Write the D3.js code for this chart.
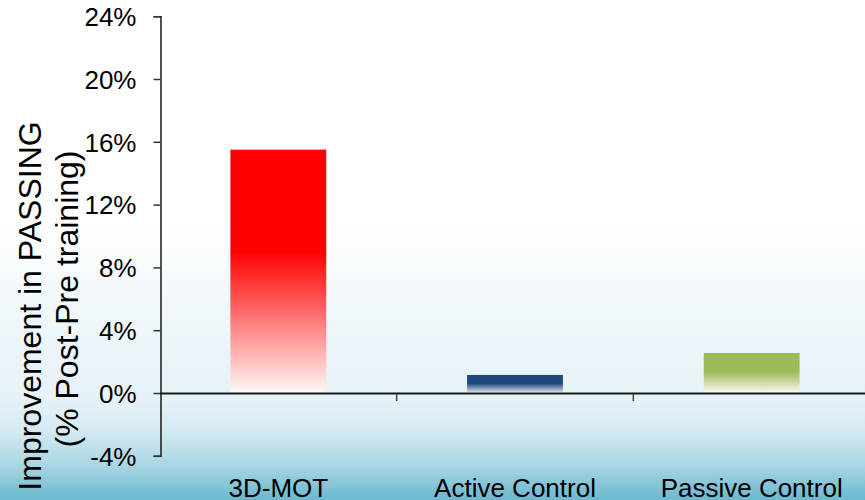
<!DOCTYPE html>
<html>
<head>
<meta charset="utf-8">
<script src="https://cdn.jsdelivr.net/npm/d3@7"></script>
<style>
  html, body { margin: 0; padding: 0; background: #fff; }
  svg { display: block; }
  text { font-family: "Liberation Sans", Arial, sans-serif; fill: #000; }
</style>
</head>
<body>
<svg id="chart" width="865" height="500"></svg>
<script>
// Training groups and their mean improvement in passing accuracy (%)
const categories = ["3D-MOT", "Active Control", "Passive Control"];
const improvement = [15.5, 1.15, 2.55];
const yTicks = [-4, 0, 4, 8, 12, 16, 20, 24];
const yTitleLines = ["Improvement in PASSING", "(% Post-Pre training)"];

// fill ramps per bar: solid colour at the top fading out towards the baseline
const barFills = [
  { top: "#ff0000", solidTo: 0.42, bottom: "#fff6f6" },
  { top: "#1f497d", solidTo: 0.5, bottom: "#d4dbe6" },
  { top: "#9bbb59", solidTo: 0.48, bottom: "#f7f7ea" }
];

const W = 865, H = 500;
const svg = d3.select("#chart");
const defs = svg.append("defs");

// page background: white at the top, turning pale then deeper blue towards the bottom
const bg = defs.append("linearGradient")
  .attr("id", "bg").attr("x1", 0).attr("y1", 0).attr("x2", 0).attr("y2", 1);
[[0, "#ffffff"], [0.45, "#ffffff"], [0.6, "#f1f8fb"], [0.8, "#e5f2f7"],
 [0.86, "#d5ebf2"], [0.93, "#a9d6e3"], [1, "#6bb8ce"]]
  .forEach(([o, c]) => bg.append("stop").attr("offset", o).attr("stop-color", c));
svg.append("rect").attr("width", W).attr("height", H).attr("fill", "url(#bg)");

const x = d3.scaleBand()
  .domain(categories)
  .range([160, 870])
  .paddingInner(0.595)
  .paddingOuter(0.2975);

const y = d3.scaleLinear().domain([-4, 24]).range([455.8, 16.2]);

barFills.forEach((f, i) => {
  const g = defs.append("linearGradient")
    .attr("id", "bar" + i).attr("x1", 0).attr("y1", 0).attr("x2", 0).attr("y2", 1);
  g.append("stop").attr("offset", 0).attr("stop-color", f.top);
  g.append("stop").attr("offset", f.solidTo).attr("stop-color", f.top);
  g.append("stop").attr("offset", 1).attr("stop-color", f.bottom);
});

// bars
svg.append("g")
  .selectAll("rect")
  .data(categories)
  .join("rect")
  .attr("x", d => x(d))
  .attr("width", x.bandwidth())
  .attr("y", (d, i) => y(improvement[i]))
  .attr("height", (d, i) => y(0) - 1 - y(improvement[i]))
  .attr("fill", (d, i) => `url(#bar${i})`);

// y axis
const yAxis = svg.append("g")
  .attr("transform", "translate(160.5,0)")
  .call(d3.axisLeft(y).tickValues(yTicks).tickSize(7).tickPadding(17)
    .tickFormat(d => d + "%"));
yAxis.select(".domain").attr("stroke", "#1a1a1a").attr("stroke-width", 1.5);
yAxis.selectAll(".tick line").attr("stroke", "#333").attr("stroke-width", 1.5);
yAxis.selectAll(".tick text")
  .style("font-size", "26px")
  .attr("fill", "#000")
  .attr("dy", "0.36em");

// x axis along the zero line, ticks at the group boundaries
const step = x.step();
const boundaries = [x(categories[1]) - (step - x.bandwidth()) / 2,
                    x(categories[2]) - (step - x.bandwidth()) / 2];
svg.append("line")
  .attr("x1", 160).attr("x2", W)
  .attr("y1", y(0) + 0.5).attr("y2", y(0) + 0.5)
  .attr("stroke", "#1a1a1a").attr("stroke-width", 2);
svg.append("g")
  .selectAll("line")
  .data(boundaries)
  .join("line")
  .attr("x1", d => d).attr("x2", d => d)
  .attr("y1", y(0) + 1).attr("y2", y(0) + 8)
  .attr("stroke", "#444").attr("stroke-width", 1.5);

// category labels
svg.append("g")
  .selectAll("text")
  .data(categories)
  .join("text")
  .attr("x", d => x(d) + x.bandwidth() / 2)
  .attr("y", 497)
  .attr("text-anchor", "middle")
  .style("font-size", "26px")
  .text(d => d);

// two-line rotated axis title
const titleCenters = [306, 299];
const titleBaselines = [41, 78];
svg.append("g")
  .selectAll("text")
  .data(yTitleLines)
  .join("text")
  .attr("transform", (d, i) => `translate(${titleBaselines[i]},${titleCenters[i]}) rotate(-90)`)
  .attr("text-anchor", "middle")
  .style("font-size", "32px")
  .text(d => d);
</script>
</body>
</html>
